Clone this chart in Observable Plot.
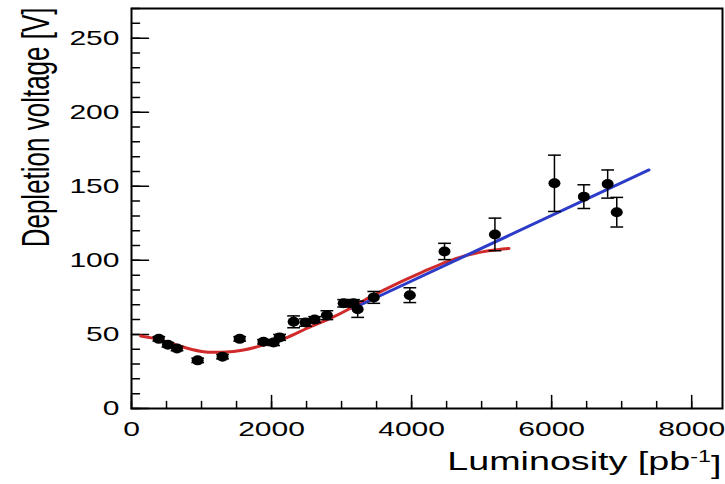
<!DOCTYPE html>
<html>
<head>
<meta charset="utf-8">
<script src="https://cdn.jsdelivr.net/npm/d3@7"></script>
<script src="https://cdn.jsdelivr.net/npm/@observablehq/plot@0.6"></script>
<style>
  body { margin: 0; background: #fff; }
  #chart svg { display: block; background: #fff; font-family: "Liberation Sans", Arial, Helvetica, sans-serif; }
</style>
</head>
<body>
<div id="chart"></div>
<script>
// Measured full-depletion voltage versus integrated luminosity
const luminosity = [390, 520, 650, 945, 1300, 1545, 1885, 2030, 2115, 2315, 2485, 2615, 2790, 3030, 3170, 3230, 3460, 3975, 4470, 5190, 6040, 6460, 6800, 6930];
const voltage    = [47, 43, 40.5, 32.5, 35, 47, 45, 44.5, 48, 58.5, 58, 60, 63, 71, 71, 67, 75, 76.5, 106, 117.5, 152, 143, 151.5, 132.5];
const voltageErr = [1.5, 1.5, 1.5, 1.5, 1.5, 1.5, 1.5, 2, 2, 4, 2.5, 2, 3, 2.5, 2.5, 5.5, 4, 5, 5.5, 11, 19, 8, 9.5, 10];

// Model prediction (red curve)
const modelLumi = [130, 400, 700, 1000, 1300, 1600, 1900, 2200, 2500, 2800, 3100, 3400, 3800, 4200, 4500, 4800, 5100, 5390];
const modelVolt = [49, 46.5, 42, 38.5, 38, 39.5, 43, 47.5, 54, 60, 67, 75, 84.5, 93, 99, 103.5, 106.5, 108];

// Linear fit to the high-luminosity points (blue line)
const fitLumi = [3160, 7390];
const fitVolt = [67.5, 161];

// Axis ticks
const xLabelTicks = [0, 2000, 4000, 6000, 8000];
const xMinorTicks = d3.range(0, 8401, 500);
const yLabelTicks = [0, 50, 100, 150, 200, 250];
const yMinorTicks = d3.range(0, 271, 10);

const points = luminosity.map((x, i) => ({x, y: voltage[i], lo: voltage[i] - voltageErr[i], hi: voltage[i] + voltageErr[i]}));
const model = modelLumi.map((x, i) => ({x, y: modelVolt[i]}));
const fit = fitLumi.map((x, i) => ({x, y: fitVolt[i]}));

// Short horizontal bar used as error-bar cap
const capSymbol = {
  draw(context, size) {
    const w = Math.sqrt(size) * 0.9;
    context.moveTo(-w, 0);
    context.lineTo(w, 0);
  }
};

// Plain straight tick for vector marks (drawn upward, then rotated)
const tickShape = {
  draw(context, length) {
    context.moveTo(0, 0);
    context.lineTo(0, -length);
  }
};

// Inward ticks along the bottom (pointing up) and left (pointing right) edges
const xTicks = (values, length) =>
  Plot.vector(values, {x: (d) => d, frameAnchor: "bottom", length, rotate: 0, anchor: "start", shape: tickShape, stroke: "#000", strokeWidth: 1.5});
const yTicks = (values, length) =>
  Plot.vector(values, {y: (d) => d, frameAnchor: "left", length, rotate: 90, anchor: "start", shape: tickShape, stroke: "#000", strokeWidth: 1.5});

const chart = Plot.plot({
  width: 725,
  height: 484,
  marginLeft: 131,
  marginRight: 3,
  marginTop: 8,
  marginBottom: 76,
  x: {domain: [0, 8440]},
  y: {domain: [0, 270]},
  marks: [
    xTicks(xMinorTicks, 7),
    xTicks(xLabelTicks, 13),
    yTicks(yMinorTicks, 8),
    yTicks(yLabelTicks, 17),
    // tick labels
    Plot.axisX(xLabelTicks, {tickSize: 0, tickPadding: 13, label: null, fontSize: 21, tickFormat: d3.format("d"), className: "xlab"}),
    Plot.axisY(yLabelTicks, {tickSize: 0, tickPadding: 12, label: null, fontSize: 21, tickFormat: d3.format("d"), className: "ylab"}),
    Plot.frame({stroke: "#000", strokeWidth: 2}),
    // curves
    Plot.line(model, {x: "x", y: "y", stroke: "#d02a2a", strokeWidth: 3, curve: "natural"}),
    Plot.line(fit, {x: "x", y: "y", stroke: "#2d3cc8", strokeWidth: 3}),
    // error bars
    Plot.ruleX(points, {x: "x", y1: "lo", y2: "hi", stroke: "#000", strokeWidth: 1.5}),
    Plot.dot(points, {x: "x", y: "lo", symbol: capSymbol, r: 4, stroke: "#000", strokeWidth: 1.5}),
    Plot.dot(points, {x: "x", y: "hi", symbol: capSymbol, r: 4, stroke: "#000", strokeWidth: 1.5}),
    // measurements
    Plot.dot(points, {x: "x", y: "y", r: 5, fill: "#000", stroke: "none", className: "meas"}),
    // axis titles
    Plot.text(["Depletion voltage [V]"], {frameAnchor: "top-left", rotate: -90, textAnchor: "end", dx: -110, dy: -1, fontSize: 26, className: "ytitle"}),
    Plot.text(["Luminosity [pb"], {frameAnchor: "bottom-right", textAnchor: "end", dx: -1, dy: 61, fontSize: 26, className: "xtitle"})
  ]
});

const svg = d3.select(chart);
// stretch the lettering horizontally as in the printed figure
svg.selectAll(".xlab text, .ylab text").attr("transform", function() {
  return d3.select(this).attr("transform") + " scale(1.43,1)";
});
svg.selectAll(".ytitle text").attr("transform", function() {
  return d3.select(this).attr("transform") + " scale(1,1.5)";
});
svg.selectAll(".meas circle").attr("transform", function() {
  const cx = d3.select(this).attr("cx"), cy = d3.select(this).attr("cy");
  return `translate(${cx},${cy}) scale(1.2,1) translate(${-cx},${-cy})`;
});
const xt = svg.select(".xtitle text");
xt.append("tspan").attr("dy", "-0.45em").attr("font-size", "62%").text("-1");
xt.append("tspan").attr("dy", "0.45em").text("]");
xt.attr("transform", xt.attr("transform") + " scale(1.45,1)");

document.getElementById("chart").append(chart);
</script>
</body>
</html>
